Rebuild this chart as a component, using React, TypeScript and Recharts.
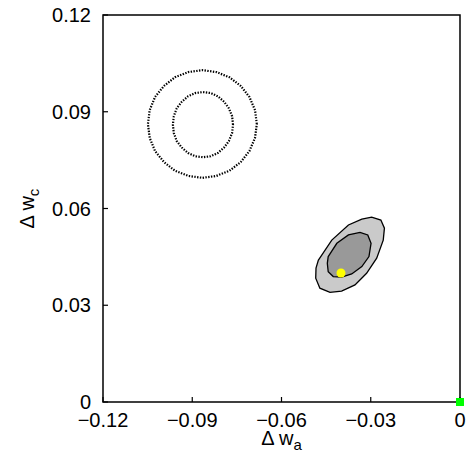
import React from 'react';
import { ScatterChart, Scatter, XAxis, YAxis, ReferenceArea } from 'recharts';

const xTicks = [-0.12, -0.09, -0.06, -0.03, 0];
const yTicks = [0, 0.03, 0.06, 0.09, 0.12];

// dotted contours, upper left
const dottedOuter: [number, number][] = [
  [-0.0683, 0.0862], [-0.0689, 0.0905], [-0.0708, 0.0946], [-0.0737, 0.098],
  [-0.0775, 0.1007], [-0.0819, 0.1023], [-0.0866, 0.1029], [-0.0913, 0.1023],
  [-0.0958, 0.1007], [-0.0995, 0.098], [-0.1025, 0.0946], [-0.1043, 0.0905],
  [-0.1049, 0.0862], [-0.1043, 0.0819], [-0.1025, 0.0778], [-0.0995, 0.0744],
  [-0.0958, 0.0717], [-0.0913, 0.0701], [-0.0866, 0.0695], [-0.0819, 0.0701],
  [-0.0775, 0.0717], [-0.0737, 0.0744], [-0.0708, 0.0778], [-0.0689, 0.0819],
];
const dottedInner: [number, number][] = [
  [-0.0763, 0.086], [-0.0766, 0.0886], [-0.0777, 0.0911], [-0.0793, 0.0931],
  [-0.0814, 0.0948], [-0.0838, 0.0958], [-0.0864, 0.0961], [-0.089, 0.0958],
  [-0.0914, 0.0948], [-0.0935, 0.0931], [-0.0952, 0.0911], [-0.0962, 0.0886],
  [-0.0965, 0.086], [-0.0962, 0.0834], [-0.0952, 0.0809], [-0.0935, 0.0789],
  [-0.0914, 0.0772], [-0.089, 0.0762], [-0.0864, 0.0759], [-0.0838, 0.0762],
  [-0.0814, 0.0772], [-0.0793, 0.0789], [-0.0777, 0.0809], [-0.0766, 0.0834],
];

// filled contours, lower right
const filledOuter: [number, number][] = [
  [-0.0476, 0.044], [-0.0431, 0.0502], [-0.0375, 0.0549], [-0.033, 0.0567],
  [-0.0297, 0.0573], [-0.0266, 0.0564], [-0.0254, 0.0539], [-0.0258, 0.0502],
  [-0.028, 0.0446], [-0.0314, 0.0399], [-0.0353, 0.0363], [-0.0398, 0.0344],
  [-0.0437, 0.034], [-0.0471, 0.0353], [-0.0485, 0.0384], [-0.0484, 0.0415],
];
const filledInner: [number, number][] = [
  [-0.0443, 0.0451], [-0.0414, 0.0492], [-0.0375, 0.0518], [-0.0336, 0.0526],
  [-0.031, 0.0518], [-0.0299, 0.0492], [-0.0306, 0.0451], [-0.033, 0.042],
  [-0.0364, 0.0397], [-0.0398, 0.0387], [-0.0426, 0.0389], [-0.0443, 0.0404],
  [-0.0446, 0.043],
];

const bestFit = [{ x: -0.04, y: 0.04 }];
const fiducial = [{ x: 0, y: 0 }];

const toPoints = (arr: [number, number][]) => arr.map(([x, y]) => ({ x, y }));

const FONT = '"Liberation Sans", Arial, Helvetica, sans-serif';

const fmt = (v: number) => (v === 0 ? '0' : v < 0 ? '\u2212' + Math.abs(v).toFixed(2) : v.toFixed(2));

const NoShape = () => <g />;
const YellowDot = (props: any) => <circle cx={props.cx} cy={props.cy} r={4.5} fill="#ffff00" />;
const GreenSquare = (props: any) => <rect x={props.cx - 4} y={props.cy - 4} width={8} height={8} fill="#00ff00" />;

const tickStroke = { stroke: '#000', strokeWidth: 1.2 };
const dotted = { stroke: '#000', strokeWidth: 2.2, strokeDasharray: '1.4 1.4', fill: 'none' };

export default function App() {
  return (
    <div style={{ position: 'absolute', left: 0, top: 0, fontFamily: FONT }}>
      <ScatterChart width={466} height={456} margin={{ top: 14, right: 5, left: 0, bottom: 0 }}>
        <XAxis
          xAxisId="b"
          dataKey="x"
          type="number"
          domain={[-0.12, 0]}
          ticks={xTicks}
          interval={0}
          tickFormatter={fmt}
          tickSize={-5}
          tickMargin={16}
          height={54}
          axisLine={false}
          tickLine={tickStroke}
          tick={{ fill: '#000', fontSize: 20, fontFamily: FONT }}
          label={(p: any) => {
            const vb = p.viewBox;
            return (
              <text x={vb.x + vb.width / 2} y={vb.y + 43} textAnchor="middle" fontSize={20} fontFamily={FONT} fill="#000">
                {'\u0394 w'}
                <tspan dy={5} fontSize={15}>a</tspan>
              </text>
            );
          }}
        />
        <XAxis
          xAxisId="t"
          orientation="top"
          type="number"
          domain={[-0.12, 0]}
          ticks={xTicks}
          interval={0}
          tickSize={-5}
          height={1}
          axisLine={false}
          tickLine={tickStroke}
          tick={NoShape}
        />
        <YAxis
          yAxisId="l"
          dataKey="y"
          type="number"
          domain={[0, 0.12]}
          ticks={yTicks}
          interval={0}
          tickFormatter={fmt}
          tickSize={-5}
          tickMargin={17}
          width={103}
          axisLine={false}
          tickLine={tickStroke}
          tick={{ fill: '#000', fontSize: 20, fontFamily: FONT }}
          label={(p: any) => {
            const vb = p.viewBox;
            const cy = vb.y + vb.height / 2;
            return (
              <text x={34} y={cy} transform={`rotate(-90, 34, ${cy})`} textAnchor="middle" fontSize={20} fontFamily={FONT} fill="#000">
                {'\u0394 w'}
                <tspan dy={5} fontSize={15}>c</tspan>
              </text>
            );
          }}
        />
        <YAxis
          yAxisId="r"
          orientation="right"
          type="number"
          domain={[0, 0.12]}
          ticks={yTicks}
          interval={0}
          tickSize={-5}
          width={1}
          axisLine={false}
          tickLine={tickStroke}
          tick={NoShape}
        />

        <ReferenceArea
          xAxisId="b"
          yAxisId="l"
          x1={-0.12}
          x2={0}
          y1={0}
          y2={0.12}
          fill="none"
          fillOpacity={0}
          stroke="#000"
          strokeWidth={1.5}
          ifOverflow="visible"
        />

        <Scatter xAxisId="b" yAxisId="l" data={toPoints(dottedOuter)} shape={NoShape} line={dotted}
          lineType="joint" lineJointType="linearClosed" isAnimationActive={false} />
        <Scatter xAxisId="b" yAxisId="l" data={toPoints(dottedInner)} shape={NoShape} line={dotted}
          lineType="joint" lineJointType="linearClosed" isAnimationActive={false} />
        <Scatter xAxisId="b" yAxisId="l" data={toPoints(filledOuter)} shape={NoShape}
          line={{ stroke: '#000', strokeWidth: 1.3, fill: '#cacaca' }}
          lineType="joint" lineJointType="linearClosed" isAnimationActive={false} />
        <Scatter xAxisId="b" yAxisId="l" data={toPoints(filledInner)} shape={NoShape}
          line={{ stroke: '#000', strokeWidth: 1.3, fill: '#999999' }}
          lineType="joint" lineJointType="linearClosed" isAnimationActive={false} />
        <Scatter xAxisId="b" yAxisId="l" data={bestFit} shape={YellowDot} isAnimationActive={false} />
        <Scatter xAxisId="b" yAxisId="l" data={fiducial} shape={GreenSquare} isAnimationActive={false} />
      </ScatterChart>
    </div>
  );
}
